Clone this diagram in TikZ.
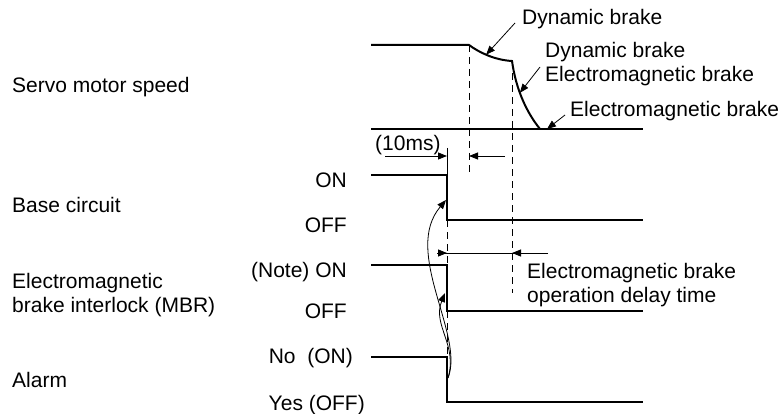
\documentclass[tikz,border=0pt]{standalone}
\usepackage{fontspec}
\setmainfont{Liberation Sans}
\usetikzlibrary{arrows.meta}
\tikzset{
  sig/.style={line width=2pt},
  thinln/.style={line width=0.9pt},
  guide/.style={line width=0.9pt, dash pattern=on 7pt off 5pt},
  lead/.style={line width=0.8pt, -{Triangle[length=9pt,width=7pt]}},
  lbl/.style={inner sep=0pt, align=left, font=\fontsize{21}{24}\selectfont}}

\begin{document}
\begin{tikzpicture}[x=1pt,y=-1pt]
  \useasboundingbox (0,0) rectangle (783,414);
  % row names
  \node[lbl, anchor=base west] (speed) at (12,93) {Servo motor speed};
  \node[lbl, anchor=base west] (base) at (12,212) {Base circuit};
  \node[lbl, anchor=base west] (mbr) at (12,312) {Electromagnetic\\brake interlock (MBR)};
  \node[lbl, anchor=base west] (alarm) at (12,387) {Alarm};
  % levels
  \node[lbl, anchor=base east] (baseon) at (347,187) {ON};
  \node[lbl, anchor=base east] (baseoff) at (347,232) {OFF};
  \node[lbl, anchor=base east] (mbron) at (347,277) {(Note) ON};
  \node[lbl, anchor=base east] (mbroff) at (347,318) {OFF};
  \node[lbl, anchor=base east] (almon) at (353,363) {No\ \ (ON)};
  \node[lbl, anchor=base east] (almoff) at (365,410) {Yes (OFF)};

  % speed
  \draw[sig] (371,45) -- (469,45)
    .. controls (480,53) and (495,60) .. coordinate[pos=0.45] (dbpt) (512,61)
    .. controls (516,90) and (527,113) .. coordinate[pos=0.4] (empt) (540,129);
  \draw[sig] (371,129) -- (643,129);
  \coordinate (stop) at (547,129);

  % signals
  \draw[sig] (371,175) -| (447,220) -- (643,220);
  \draw[sig] (371,265) -| (447,311) -- (643,311);
  \draw[sig] (371,357) -| (447,402) -- (643,402);

  % guides
  \draw[guide] (469,45) -- (469,173);
  \draw[guide] (512,61) -- (512,293);
  \draw[guide] (447,220) -- (447,265);
  \draw[guide] (447,311) -- (447,357);
  \draw[thinln] (447,148) -- (447,175);

  % brake labels
  \node[lbl, anchor=base west] (db) at (522,25) {Dynamic brake};
  \node[lbl, anchor=base west] (dbem) at (545,82) {Dynamic brake\\Electromagnetic brake};
  \node[lbl, anchor=base west] (em) at (570,117) {Electromagnetic brake};
  \coordinate (dbfrom) at (515,23);
  \coordinate (dbemfrom) at (540,67);
  \coordinate (emfrom) at (565,115);
  \draw[lead] (dbfrom) -- (dbpt);
  \draw[lead] (dbemfrom) -- (empt);
  \draw[lead] (emfrom) -- (stop);

  % 10ms
  \node[lbl, anchor=base west] (tenms) at (375,150) {(10ms)};
  \coordinate (tenl) at (385,156);
  \coordinate (tenr) at (505,156);
  \draw[lead] (tenl) -- (447,156);
  \draw[lead] (tenr) -- (469,156);

  % delay time
  \node[lbl, anchor=base west] (delay) at (527,302) {Electromagnetic brake\\operation delay time};
  \coordinate (dl) at (437,253);
  \coordinate (dr) at (548,253);
  \draw[thinln] (dl) -- (dr);
  \draw[lead] (dl) -- (447,253);
  \draw[lead] (dr) -- (512,253);

  % alarm -> base circuit, MBR
  \coordinate (alm) at (448,378);
  \coordinate (basehit) at (446,200);
  \coordinate (mbrhit) at (445,293);
  \draw[lead] (alm) .. controls (465,335) and (402,252) .. (basehit);
  \draw[lead] (alm) .. controls (458,345) and (432,325) .. (mbrhit);
\end{tikzpicture}
\end{document}
